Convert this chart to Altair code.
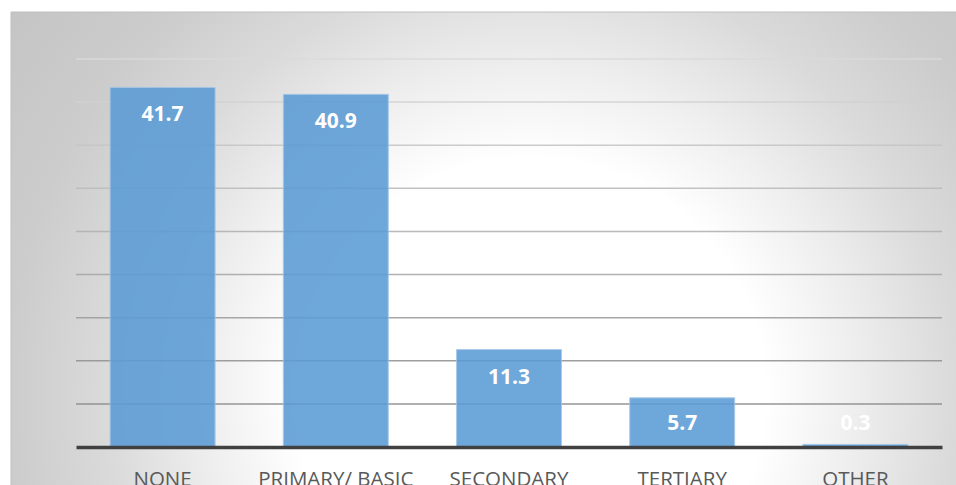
import altair as alt
import pandas as pd

categories = ["NONE", "PRIMARY/ BASIC", "SECONDARY", "TERTIARY", "OTHER"]
values = [41.7, 40.9, 11.3, 5.7, 0.3]
grid_values = [5, 10, 15, 20, 25, 30, 35, 40, 45]

df = pd.DataFrame({"category": categories, "value": values})
grid_df = pd.DataFrame({"g": grid_values})

W, H = 866, 388

gradient = {
    "gradient": "radial",
    "x1": 0.54, "y1": 0.64, "r1": 0,
    "x2": 0.54, "y2": 0.64, "r2": 0.68,
    "stops": [
        {"offset": 0, "color": "#ffffff"},
        {"offset": 0.36, "color": "#ffffff"},
        {"offset": 0.5, "color": "#eeeeee"},
        {"offset": 0.65, "color": "#dadada"},
        {"offset": 0.8, "color": "#cccccc"},
        {"offset": 1, "color": "#c4c4c4"},
    ],
}

yscale = alt.Scale(domain=[0, 45], nice=False, zero=True)
xenc = alt.X(
    "category:N",
    sort=categories,
    scale=alt.Scale(paddingInner=0.394, paddingOuter=0.197),
    axis=alt.Axis(
        title=None, labelAngle=0, ticks=False, grid=False,
        domainColor="#404040", domainWidth=3.5, zindex=1,
        labelFont="Open Sans", labelFontSize=20.5, labelColor="#595959",
        labelPadding=22, labelBaseline="top",
    ),
)

bg = alt.Chart(pd.DataFrame({"k": [0]})).mark_rect(
    fill=gradient, stroke="#bfbfbf", strokeWidth=1
).encode(
    x=alt.value(-65), x2=alt.value(W + 30),
    y=alt.value(-47), y2=alt.value(H + 60),
)

grid = alt.Chart(grid_df).mark_rule(strokeWidth=1.5, opacity=0.9).encode(
    y=alt.Y("g:Q", scale=yscale, axis=None),
    color=alt.Color("g:Q", scale=alt.Scale(domain=[5, 45], range=["#8a8a8a", "#dadada"]), legend=None),
)

bars = alt.Chart(df).mark_bar(
    color="#5b9bd5", opacity=0.88, stroke="#9dc3e6", strokeWidth=1
).encode(
    x=xenc,
    y=alt.Y("value:Q", scale=yscale, axis=None),
)

labels = alt.Chart(df).transform_calculate(
    label_pos="max(datum.value, 5.92)"
).mark_text(
    dy=28, baseline="middle", font="Open Sans", fontWeight="bold",
    fontSize=21, color="white",
).encode(
    x=xenc,
    y=alt.Y("label_pos:Q", scale=yscale, axis=None),
    text=alt.Text("value:Q", format=".1f"),
)

chart = alt.layer(bg, grid, bars, labels).properties(
    width=W, height=H,
    padding={"left": 76, "top": 59, "right": 14, "bottom": 38},
    autosize=alt.AutoSizeParams(type="none"),
    background="white",
).configure_view(strokeWidth=0)

chart.save("out.html", embed_options={"renderer": "svg", "actions": False})
